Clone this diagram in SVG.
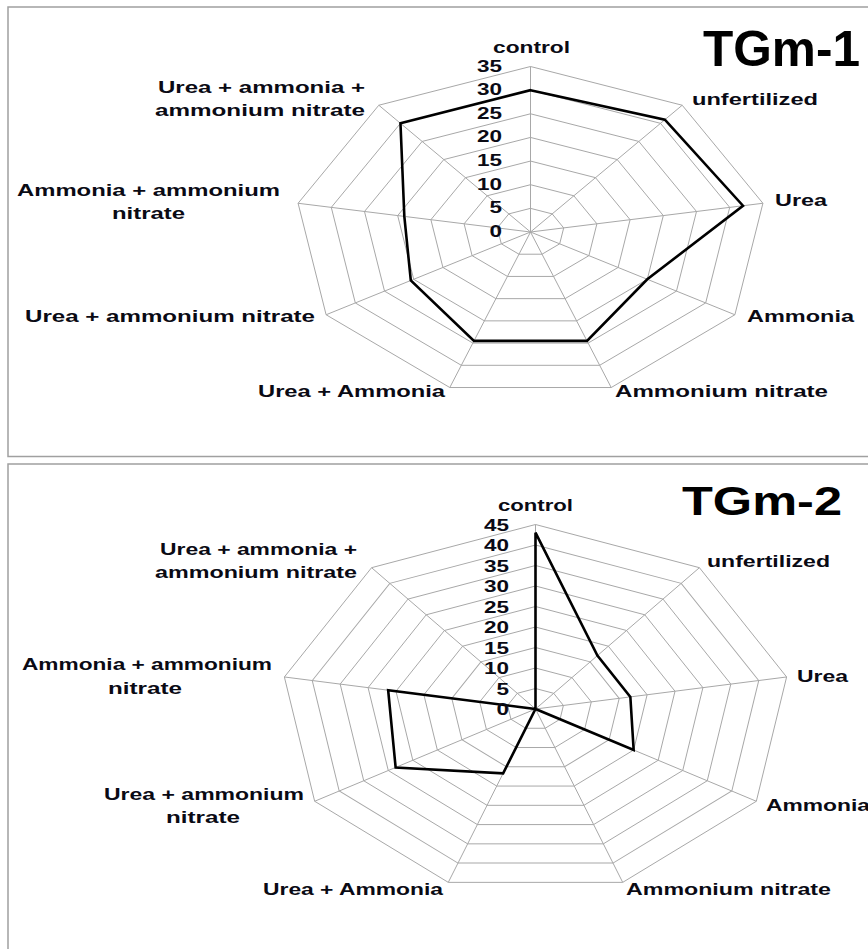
<svg xmlns="http://www.w3.org/2000/svg" width="868" height="949" viewBox="0 0 868 949">
<style>
.frame{fill:none;stroke:#a0a0a0;stroke-width:1.5}
.grid{fill:none;stroke:#a8a8a8;stroke-width:1;vector-effect:non-scaling-stroke}
.data{fill:none;stroke:#000;stroke-width:2.6;stroke-linejoin:miter;vector-effect:non-scaling-stroke}
.lbl{font-family:"Liberation Sans",Arial,sans-serif;font-weight:bold;font-size:17px;fill:#0a0a14}
.tick{font-family:"Liberation Sans",Arial,sans-serif;font-weight:bold;font-size:16px;fill:#0a0a14}
.title{font-family:"Liberation Sans",Arial,sans-serif;font-weight:bold;fill:#000}
</style>
<defs>
<polygon id="ring" class="grid" vector-effect="non-scaling-stroke" points="0,-1 0.6428,-0.7660 0.9848,-0.1736 0.8660,0.5 0.3420,0.9397 -0.3420,0.9397 -0.8660,0.5 -0.9848,-0.1736 -0.6428,-0.7660"/>
<path id="spokes" class="grid" vector-effect="non-scaling-stroke" d="M0,0L0,-1M0,0L0.6428,-0.7660M0,0L0.9848,-0.1736M0,0L0.8660,0.5M0,0L0.3420,0.9397M0,0L-0.3420,0.9397M0,0L-0.8660,0.5M0,0L-0.9848,-0.1736M0,0L-0.6428,-0.7660"/>
</defs>
<rect width="868" height="949" fill="#fff"/>

<g id="panel1">
<rect class="frame" x="8" y="7" width="880" height="449.5"/>
<g id="grid1" transform="translate(530.5,232) scale(236,165.5)">
<use href="#spokes"/>
<use href="#ring" transform="scale(0.142857)"/>
<use href="#ring" transform="scale(0.285714)"/>
<use href="#ring" transform="scale(0.428571)"/>
<use href="#ring" transform="scale(0.571429)"/>
<use href="#ring" transform="scale(0.714286)"/>
<use href="#ring" transform="scale(0.857143)"/>
<use href="#ring"/>
<polygon class="data" vector-effect="non-scaling-stroke" points="0,-0.8571 0.5693,-0.6785 0.9004,-0.1587 0.4949,0.2857 0.2394,0.6578 -0.2394,0.6578 -0.5072,0.2929 -0.5346,-0.0942 -0.5510,-0.6566"/>
</g>
<g id="ticks1" class="tick">
<text x="477" y="71.5" textLength="25" lengthAdjust="spacingAndGlyphs">35</text>
<text x="477" y="95.2" textLength="25" lengthAdjust="spacingAndGlyphs">30</text>
<text x="477" y="118.8" textLength="25" lengthAdjust="spacingAndGlyphs">25</text>
<text x="477" y="142.4" textLength="25" lengthAdjust="spacingAndGlyphs">20</text>
<text x="477" y="166.1" textLength="25" lengthAdjust="spacingAndGlyphs">15</text>
<text x="477" y="189.7" textLength="25" lengthAdjust="spacingAndGlyphs">10</text>
<text x="489.5" y="213.4" textLength="12.5" lengthAdjust="spacingAndGlyphs">5</text>
<text x="489.5" y="237" textLength="12.5" lengthAdjust="spacingAndGlyphs">0</text>
</g>
<g id="labels1" class="lbl">
<text x="493" y="52.5" textLength="77" lengthAdjust="spacingAndGlyphs">control</text>
<text x="692" y="105" textLength="126" lengthAdjust="spacingAndGlyphs">unfertilized</text>
<text x="775" y="206" textLength="52" lengthAdjust="spacingAndGlyphs">Urea</text>
<text x="747" y="322" textLength="107" lengthAdjust="spacingAndGlyphs">Ammonia</text>
<text x="615" y="397" textLength="213" lengthAdjust="spacingAndGlyphs">Ammonium nitrate</text>
<text x="258" y="397" textLength="187" lengthAdjust="spacingAndGlyphs">Urea + Ammonia</text>
<text x="25" y="322" textLength="290" lengthAdjust="spacingAndGlyphs">Urea + ammonium nitrate</text>
<text x="17" y="196" textLength="263" lengthAdjust="spacingAndGlyphs">Ammonia + ammonium</text>
<text x="112" y="218.5" textLength="73" lengthAdjust="spacingAndGlyphs">nitrate</text>
<text x="158" y="93" textLength="207" lengthAdjust="spacingAndGlyphs">Urea + ammonia +</text>
<text x="155" y="116" textLength="210" lengthAdjust="spacingAndGlyphs">ammonium nitrate</text>
</g>
<text id="title1" class="title" x="703" y="66" font-size="50" textLength="157" lengthAdjust="spacingAndGlyphs">TGm-1</text>
</g>

<g id="panel2">
<rect class="frame" x="8" y="464" width="880" height="500"/>
<g id="grid2" transform="translate(535.5,709) scale(255,184.5)">
<use href="#spokes"/>
<use href="#ring" transform="scale(0.111111)"/>
<use href="#ring" transform="scale(0.222222)"/>
<use href="#ring" transform="scale(0.333333)"/>
<use href="#ring" transform="scale(0.444444)"/>
<use href="#ring" transform="scale(0.555556)"/>
<use href="#ring" transform="scale(0.666667)"/>
<use href="#ring" transform="scale(0.777778)"/>
<use href="#ring" transform="scale(0.888889)"/>
<use href="#ring"/>
<polygon class="data" vector-effect="non-scaling-stroke" points="0,-0.9556 0.2428,-0.2894 0.3720,-0.0656 0.3849,0.2222 0,0 -0.1269,0.3487 -0.5485,0.3167 -0.5778,-0.1018 0,0"/>
</g>
<g id="ticks2" class="tick">
<text x="484" y="530.5" textLength="25" lengthAdjust="spacingAndGlyphs">45</text>
<text x="484" y="551" textLength="25" lengthAdjust="spacingAndGlyphs">40</text>
<text x="484" y="571.5" textLength="25" lengthAdjust="spacingAndGlyphs">35</text>
<text x="484" y="592" textLength="25" lengthAdjust="spacingAndGlyphs">30</text>
<text x="484" y="612.5" textLength="25" lengthAdjust="spacingAndGlyphs">25</text>
<text x="484" y="633" textLength="25" lengthAdjust="spacingAndGlyphs">20</text>
<text x="484" y="653.5" textLength="25" lengthAdjust="spacingAndGlyphs">15</text>
<text x="484" y="674" textLength="25" lengthAdjust="spacingAndGlyphs">10</text>
<text x="496.5" y="694.5" textLength="12.5" lengthAdjust="spacingAndGlyphs">5</text>
<text x="496.5" y="715" textLength="12.5" lengthAdjust="spacingAndGlyphs">0</text>
</g>
<g id="labels2" class="lbl">
<text x="498" y="511" textLength="75" lengthAdjust="spacingAndGlyphs">control</text>
<text x="707" y="567" textLength="123" lengthAdjust="spacingAndGlyphs">unfertilized</text>
<text x="797" y="682" textLength="51" lengthAdjust="spacingAndGlyphs">Urea</text>
<text x="766" y="811" textLength="104" lengthAdjust="spacingAndGlyphs">Ammonia</text>
<text x="626" y="895" textLength="205" lengthAdjust="spacingAndGlyphs">Ammonium nitrate</text>
<text x="263" y="895" textLength="180" lengthAdjust="spacingAndGlyphs">Urea + Ammonia</text>
<text x="104" y="799.5" textLength="200" lengthAdjust="spacingAndGlyphs">Urea + ammonium</text>
<text x="166" y="823" textLength="74" lengthAdjust="spacingAndGlyphs">nitrate</text>
<text x="22" y="670" textLength="250" lengthAdjust="spacingAndGlyphs">Ammonia + ammonium</text>
<text x="108" y="694" textLength="74" lengthAdjust="spacingAndGlyphs">nitrate</text>
<text x="160" y="555" textLength="197" lengthAdjust="spacingAndGlyphs">Urea + ammonia +</text>
<text x="155" y="578" textLength="202" lengthAdjust="spacingAndGlyphs">ammonium nitrate</text>
</g>
<text id="title2" class="title" x="682" y="515" font-size="40" textLength="160" lengthAdjust="spacingAndGlyphs">TGm-2</text>
</g>
</svg>
